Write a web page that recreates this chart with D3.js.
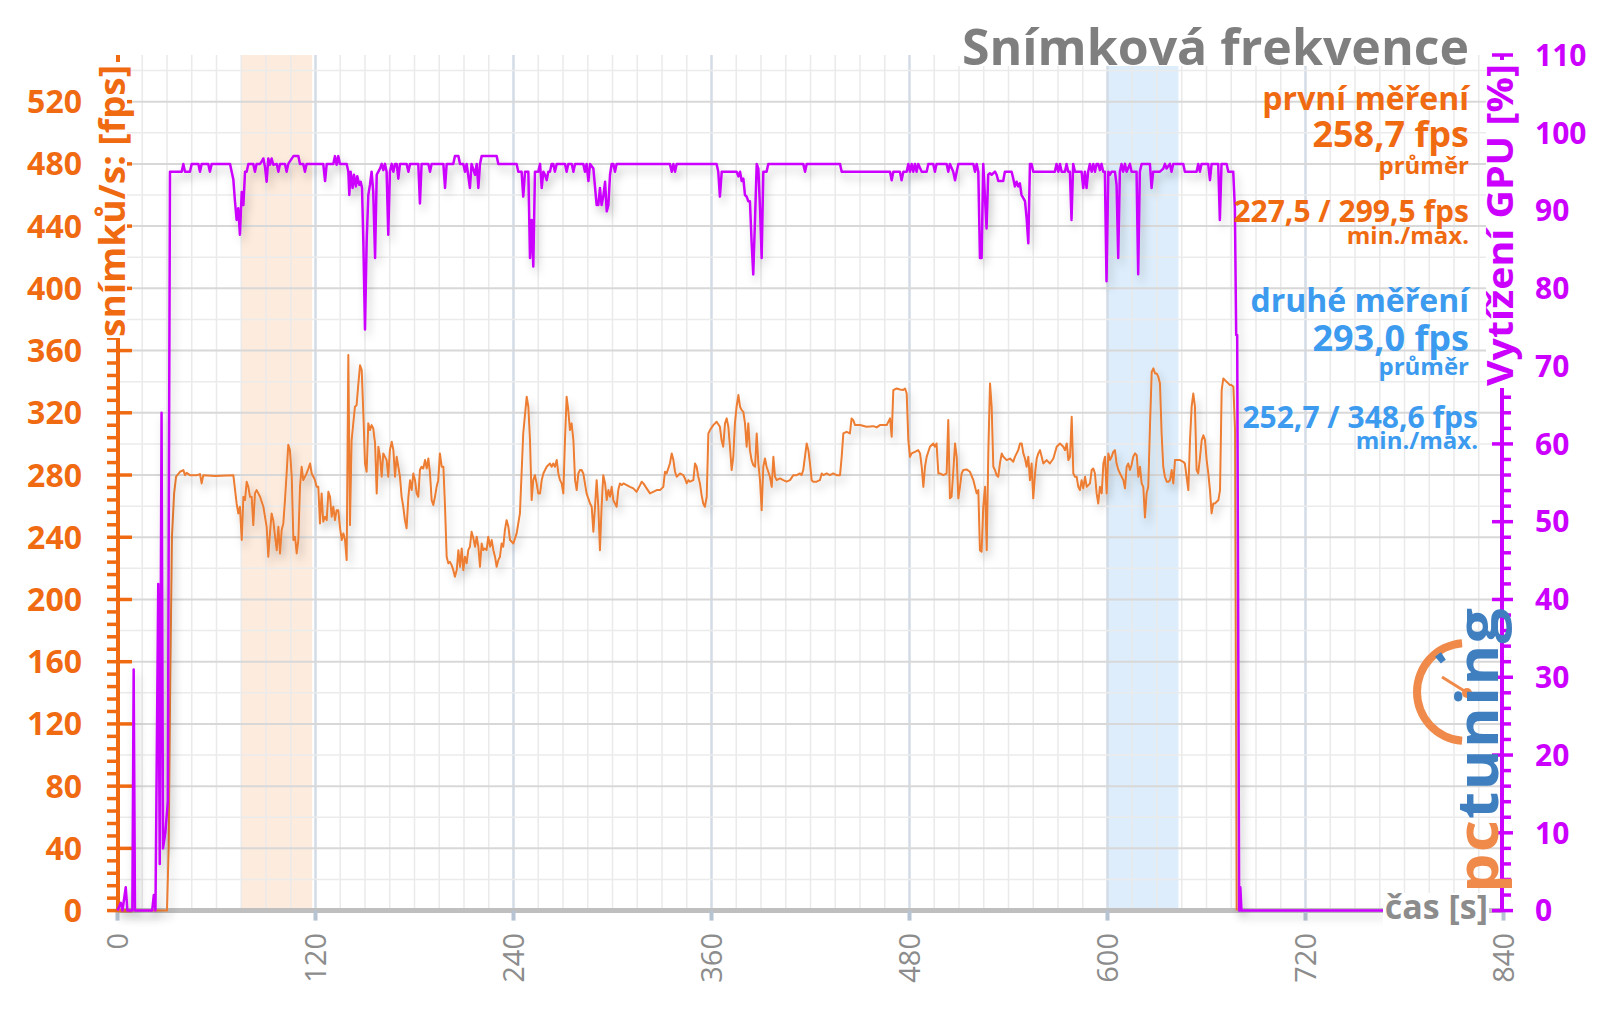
<!DOCTYPE html>
<html><head><meta charset="utf-8">
<script src="https://cdn.jsdelivr.net/npm/d3@7"></script>
<style>
html,body{margin:0;padding:0;background:#fff;}
svg{display:block;font-family:"Open Sans",sans-serif;}
</style></head><body>
<svg id="c" width="1600" height="1009"></svg>
<script>
// ---------- data ----------
const xTicks = [0,120,240,360,480,600,720,840];
const fpsTicks = [0,40,80,120,160,200,240,280,320,360,400,440,480,520];
const gpuTicks = [0,10,20,30,40,50,60,70,80,90,100,110];
const bandFirst = [75,118];
const bandSecond = [600,643];
const titleText = "Snímková frekvence";
const firstLabels = ["první měření","258,7 fps","průměr","227,5 / 299,5 fps","min./max."];
const secondLabels = ["druhé měření","293,0 fps","průměr","252,7 / 348,6 fps","min./max."];
const leftTitle = "snímků/s: [fps]";
const rightTitle = "Vytížení GPU [%]";
const xTitle = "čas [s]";

const fpsPoints = [[0,0],[30,0],[31,40],[32,150],[33,240],[34.3,268],[35.5,278.9],[37.9,282.1],[39.9,283.2],[40.9,279.9],[41.9,281.4],[43.9,279.9],[48,279.9],[50,280.6],[51,274.6],[52,279.9],[59.1,279.3],[70.2,279.9],[72.2,261.7],[73.2,255.3],[74.2,259.6],[75.3,238.2],[76.3,266],[77.3,263.9],[78.3,275.7],[79.3,272.4],[80.3,266],[81.3,266],[82.3,247.8],[83.3,268.2],[84.3,270.3],[86.4,266],[88.4,259.6],[90.4,246.7],[91.4,227.5],[92.4,242.5],[93.4,255.3],[94.4,251],[95.5,240.3],[96.5,231.7],[97.5,246.7],[98.5,229.6],[99.5,244.6],[100.5,248.9],[101.5,263.9],[102.5,281],[103.5,299.5],[104.5,296],[105.6,278.9],[106.6,238.2],[107.6,240.3],[108.6,229.6],[109.6,238.2],[110.6,272.4],[111.6,285.3],[112.6,276.7],[113.6,278.9],[114.6,281],[115.7,284.2],[116.7,287.4],[117.7,281],[118.7,278.9],[119.7,276.7],[120.7,272.4],[121.7,272.4],[122.7,248.9],[123.7,268.2],[124.7,250],[125.8,253.2],[126.8,251],[127.8,269.2],[128.8,266],[129.8,253.2],[130.8,259.6],[131.8,251],[132.8,257.4],[133.8,257.4],[134.8,246.7],[135.9,238.2],[136.9,242.5],[137.9,238.2],[138.9,225.3],[139.9,357.1],[140.9,247.8],[141.9,302.4],[142.9,313.2],[143.9,323.9],[144.9,324.9],[146,338.9],[147,350.6],[148,347.4],[149,319.6],[150,287.4],[151,282.1],[152,313.2],[153,308.9],[154,312.1],[155,309.9],[156.1,300.3],[157.1,268.2],[158.1,298.2],[159.1,291.7],[160.1,278.9],[161.1,293.9],[162.1,291.7],[163.1,289.6],[164.1,278.9],[165.1,296],[166.2,301.4],[167.2,296],[168.2,278.9],[169.2,291.7],[170.2,285.3],[171.2,278.9],[172.2,266],[173.2,259.6],[174.2,251],[175.2,245.7],[176.3,266],[177.3,276.7],[178.3,270.3],[179.3,281],[180.3,276.7],[181.3,268.2],[182.3,266],[183.3,283.2],[184.3,285.3],[185.3,284.2],[186.4,289.6],[187.4,284.2],[188.4,290.6],[189.4,281],[190.4,263.9],[191.4,260.7],[192.4,266],[193.4,272.4],[194.4,276.7],[195.4,293.9],[196.5,285.3],[197.5,285.3],[198.5,259.6],[199.5,227.5],[200.5,223.2],[201.5,224.2],[202.5,222.1],[203.5,218.9],[204.5,214.6],[205.6,218.9],[206.6,231.7],[207.6,221],[208.6,232.8],[209.6,218.9],[210.6,227.5],[211.6,223.2],[212.6,231.7],[213.6,233.9],[214.6,243.5],[215.7,239.2],[216.7,233.9],[217.7,240.3],[218.7,233.9],[219.7,221],[220.7,236],[221.7,231.7],[222.7,232.8],[223.7,231.7],[224.7,240.3],[225.8,233.9],[226.8,238.2],[227.8,231.7],[228.8,227.5],[229.8,221],[230.8,225.3],[231.8,227.5],[232.8,236],[233.8,233.9],[234.8,244.6],[235.8,251],[236.9,246.7],[237.9,238.2],[239.9,236],[241.9,242.5],[243.9,255.3],[244.9,281],[245.9,306.7],[248,330.3],[249,323.9],[250,302.4],[251,263.9],[252,276.7],[253,279.9],[254,274.6],[255,268.2],[256.1,268.2],[257.1,276.7],[258.1,281],[260.1,285.3],[262.1,287.4],[263.1,285.3],[264.1,287.4],[265.1,285.3],[266.2,289.6],[267.2,281],[268.2,276.7],[269.2,274.6],[270.2,268.2],[271.2,302.4],[272.2,330.3],[273.2,321.7],[274.2,308.9],[275.2,313.2],[276.3,302.4],[277.3,276.7],[278.3,270.3],[279.3,281],[280.3,283.2],[281.3,283.2],[282.3,281],[283.3,274.6],[284.3,268.2],[286.4,261.7],[287.4,259.6],[288.4,243.5],[289.4,259.6],[290.4,276.7],[291.4,259.6],[292.4,231.7],[293.4,259.6],[294.4,279.9],[295.5,274.6],[296.5,263.9],[297.5,270.3],[298.5,266],[299.5,272.4],[300.5,263.9],[301.5,261.7],[302.5,259.6],[303.5,270.3],[304.5,274.6],[305.6,273.5],[306.6,274.6],[308.6,273.5],[310.6,272.4],[312.6,271.4],[314.6,269.2],[316.7,273.5],[317.7,275.7],[318.7,274.6],[320.7,271.4],[322.7,268.2],[324.7,269.2],[326.8,270.3],[328.8,270.3],[330.8,272.4],[331.8,282.1],[332.8,281],[334.8,287.4],[335.9,293.9],[336.9,289.6],[337.9,282.1],[338.9,278.9],[340.9,281],[342.9,279.9],[343.9,277.8],[345,274.6],[346,276.7],[347,275.7],[349,276.7],[350,287.4],[351,285.3],[352,278.9],[353,274.6],[354,267.1],[355,261.7],[356,259.6],[357.1,266],[358.1,306.7],[359.1,308.9],[361.1,312.1],[363.1,314.2],[365.1,311],[366.1,302.4],[367.1,298.2],[368.2,313.2],[369.2,316.4],[370.2,311],[371.2,298.2],[372.2,283.2],[373.2,291.7],[374.2,313.2],[375.2,323.9],[376.3,331.4],[377.3,323.9],[378.3,321.7],[379.3,320.6],[380.3,313.2],[381.3,298.2],[382.3,313.2],[383.3,296],[384.3,289.6],[385.3,286.4],[386.4,285.3],[387.4,306.7],[388.4,287.4],[389.4,276.7],[390.4,257.4],[391.4,285.3],[392.4,290.6],[393.4,285.3],[394.4,282.1],[395.4,278.9],[396.5,272.4],[397.5,291.7],[398.5,278.9],[399.5,276.7],[401.5,277.8],[403.5,276.7],[405.5,275.7],[407.6,276.7],[409.6,279.9],[411.6,279.9],[413.6,281],[414.6,279.9],[415.6,283.2],[417.7,300.3],[418.7,296],[419.7,287.4],[420.7,276.7],[421.7,275.7],[423.7,275.7],[425.7,276.7],[426.8,281],[427.8,279.9],[429.8,281],[431.8,279.9],[433.8,281],[435.8,279.9],[437.9,279.9],[438.9,291.7],[439.9,306.7],[441.9,307.8],[443.9,306.7],[444.9,316.4],[445.9,315.3],[447,312.1],[450,312.1],[454,311],[458.1,311.4],[460.1,310.6],[462.1,312.1],[466.2,312.1],[468.2,316.4],[469.2,304.6],[470.2,334.6],[472.2,335.6],[474.2,335],[476.2,334.6],[477.3,335.6],[478.3,332.4],[479.3,302.4],[480.3,291.7],[481.3,293.9],[483.3,294.9],[485.3,296],[486.4,293.9],[487.4,285.3],[488.4,272.4],[489.4,285.3],[490.4,291.7],[492.4,298.2],[494.4,300.3],[495.4,298.2],[496.4,300.3],[497.5,281],[498.5,281],[500.5,279.9],[502.5,281],[503.5,315.3],[504.5,265],[505.5,266],[506.6,283.2],[507.6,300.3],[508.6,291.7],[509.6,265],[510.6,272.4],[511.6,281],[512.6,283.2],[514.6,283.6],[516.6,282.1],[518.7,276.7],[520.7,268.2],[521.7,270.3],[522.7,231.7],[523.7,230.7],[524.7,259.6],[525.8,272.4],[526.8,231.7],[527.8,296],[528.8,338.9],[529.8,323.9],[530.8,285.3],[531.8,283.2],[532.8,279.9],[533.8,278.9],[534.8,287.4],[535.9,293.9],[536.9,291.7],[538.9,289.6],[540.9,290.6],[542.9,288.5],[543.9,291.7],[545.9,296],[547,300.3],[548,300.3],[549,293.9],[550,290.6],[551,285.3],[552,291.7],[553,276.7],[554,287.4],[555,265],[556.1,281],[557.1,290.6],[558.1,293.9],[559.1,296],[560.1,291.7],[561.1,287.4],[563.1,289.6],[565.1,287.4],[567.2,290.6],[569.2,298.2],[571.2,300.3],[573.2,298.2],[574.2,296],[575.3,300.3],[576.3,289.6],[577.3,291.7],[578.3,317.4],[579.3,281],[580.3,278.9],[581.3,278.9],[582.3,272.4],[583.3,270.3],[584.3,276.7],[585.3,271.4],[586.4,278.9],[587.4,272.4],[589.4,274.6],[590.4,283.2],[591.4,284.2],[592.4,281],[593.4,268.2],[594.4,261.7],[595.4,272.4],[596.5,268.2],[597.5,287.4],[598.5,291.7],[599.5,268.2],[600.5,293.9],[601.5,289.6],[602.5,291.7],[603.5,294.9],[604.5,296],[605.5,287.4],[606.6,283.2],[607.6,281],[608.6,278.9],[609.6,276.7],[610.6,271.4],[611.6,285.3],[612.6,287.4],[613.6,283.2],[614.6,286.4],[615.6,291.7],[616.7,293.9],[617.7,292.8],[618.7,278.9],[619.7,285.3],[620.7,274.6],[621.7,272.4],[622.7,252.7],[623.7,268.2],[624.7,272.4],[625.8,313.2],[626.8,346.3],[627.8,348.6],[628.8,345.3],[629.8,345.3],[630.8,343.1],[631.8,338.9],[632.8,306.7],[633.8,285.3],[634.8,278.9],[635.9,275.7],[636.9,275.7],[637.9,276.7],[638.9,283.2],[639.9,274.6],[640.9,289.6],[641.9,289.6],[643.9,289.6],[645.9,288.5],[646.9,287.4],[649,270.3],[650,302.4],[651,323.9],[652,332.4],[653,323.9],[654,283.2],[655,281],[656.1,291.7],[657.1,302.4],[658.1,305.6],[659.1,302.4],[660.1,289.6],[661.1,281],[662.1,270.3],[663.1,255.3],[664.1,261.7],[665.1,261.7],[666.2,262.8],[667.2,263.9],[668.2,270.3],[669.2,334.6],[670.2,342.1],[671.2,341],[672.2,339.9],[673.2,338.9],[674.2,337.8],[675.2,337.8],[676.3,336.7],[677.3,308.9],[678.3,0]];

const gpuPoints = [[0,0],[2,1],[3,0],[5,3],[6,0],[9,0],[9.8,31],[10.6,0],[21,0],[22,2],[23,0],[24.7,42],[25.6,6],[26.7,64],[27.6,8],[29,10],[30.5,14],[31.8,95],[38.9,95],[39.9,96],[40.9,95],[43.9,95],[45,96],[49,96],[50,95],[51,96],[55,96],[56,95],[57.1,96],[68.2,96],[69.2,95],[70.2,94],[71.2,91.2],[72.2,88.8],[73.2,90.3],[74.2,86.9],[75.3,92.4],[76.3,90.7],[77.3,95],[78.3,95],[79.3,96],[82.3,96],[83.3,95],[84.3,96],[86.4,96],[87.4,96.3],[88.4,96.7],[89.4,95.6],[90.4,93.7],[91.4,96.7],[92.4,95.9],[93.4,96.7],[94.4,95.9],[96.5,96],[97.5,95],[98.5,96],[101.5,96],[102.5,95],[103.5,96],[106.6,97],[109.6,97],[110.6,96],[112.6,96],[113.6,95],[114.6,96],[124.7,96],[125.8,93.8],[126.8,96],[130.8,96],[131.8,97],[132.8,95.9],[133.8,97],[134.8,96],[138.9,96],[139.9,95],[140.5,92],[141.3,95],[142.5,92.9],[143.3,94.6],[144.5,93.1],[145.3,94.4],[146.6,93.3],[147.4,93.7],[148.2,92.9],[149,86],[150,74.7],[151,86],[152,92],[153,93.3],[154,95],[155,92.4],[156.1,83.9],[157.1,94.6],[158.1,95],[159.1,95.4],[160.1,96],[161.1,95.2],[162.1,96],[163.1,95],[164.1,86.9],[165.1,95],[166.2,96],[167.2,95],[168.2,96],[169.2,96],[170.2,94.1],[171.2,96],[175.2,96],[176.3,95],[177.3,96],[182.3,96],[183.3,90.9],[184.3,96],[188.4,96],[189.4,95],[190.4,96],[197.5,96],[198.5,92.9],[199.5,96],[203.5,96],[204.5,97],[206.6,97],[207.6,96],[209.6,96],[210.6,95],[211.6,96],[213.6,92.9],[214.6,96],[216.7,94.6],[217.7,96],[218.7,92.9],[219.7,96],[220.7,97],[229.8,97],[230.8,96],[241.9,96],[242.9,95],[244.9,95],[245.9,91.8],[247,95],[249,95],[250,83.9],[251,88.8],[252,82.8],[253,95],[255,95],[256.1,96],[257.1,92.9],[258.1,95],[259.1,94.6],[260.1,93.9],[261.1,95],[262.1,95],[263.1,96],[264.1,96],[265.1,95],[266.2,96],[271.2,96],[272.2,95],[273.2,96],[275.3,96],[276.3,95],[277.3,96],[282.3,96],[283.3,95],[284.3,96],[285.4,93.8],[286.4,96],[288.4,95.4],[290.4,90.7],[291.4,90.7],[292.4,92.9],[293.4,90.7],[294.4,91.8],[295.5,93.7],[296.5,89.9],[297.5,90.7],[298.5,94.6],[299.5,96],[300.5,96],[301.5,95],[302.5,96],[334.8,96],[335.9,95],[336.9,96],[337.9,95],[338.9,96],[363.1,96],[364.1,95],[365.1,91.8],[366.2,95],[375.2,95],[376.3,94.4],[377.3,95],[378.3,93.8],[379.3,94.1],[380.3,92],[381.3,91.8],[382.3,91.2],[383.3,91.2],[384.3,86],[385.3,81.8],[386.4,89],[387.4,96],[388.4,95.4],[389.4,90.3],[390.4,83.9],[391.4,95],[393.4,95],[394.4,96],[415.6,96],[416.7,95],[417.7,96],[437.9,96],[438.9,95],[468.2,95],[469.2,93.9],[470.2,95],[474.2,95],[475.2,93.9],[476.3,95],[478.3,95],[479.3,96],[480.3,95],[481.3,96],[482.3,95],[483.3,96],[484.3,95],[485.3,96],[487.4,95],[490.4,95],[491.4,96],[494.4,96],[495.4,95],[496.4,96],[502.5,96],[503.5,95],[504.5,96],[506.5,95],[507.6,93.9],[508.6,95],[509.6,96],[518.7,96],[519.7,95],[520.7,96],[521.7,95],[522.7,83.9],[523.7,83.9],[524.7,96],[526.7,87.7],[527.7,94.6],[528.7,94.8],[529.8,94.6],[531.8,95],[532.8,94.6],[533.8,93.8],[536.8,93.8],[537.8,95],[541.9,95],[542.9,94.1],[543.9,93.1],[544.9,93.7],[545.9,93.1],[546.9,93.5],[547.9,92],[550,91.2],[551,89],[552,85.8],[553,96],[554,96],[555,95],[568.1,95],[569.1,96],[570.2,95],[571.2,96],[572.2,95],[574.2,95],[575.2,96],[576.2,95],[577.2,95],[578.2,88.8],[579.2,96],[580.3,95],[584.3,95],[585.3,92.9],[586.3,95],[587.3,92.9],[588.3,95],[589.3,96],[590.4,95],[591.4,96],[592.4,95],[593.4,96],[594.4,96],[595.4,95.2],[596.4,96],[597.4,95],[598.4,95],[599.4,80.9],[600.5,95],[601.5,94.6],[602.5,95],[604.5,95],[605.5,93.3],[606.5,83.9],[607.5,95],[608.5,96],[609.5,95],[610.6,96],[611.6,95],[613.6,96],[614.6,95],[617.6,95],[618.6,81.8],[619.6,95],[620.7,96],[625.7,96],[626.7,92.9],[627.7,95],[631.8,95],[632.8,95.2],[633.8,95.4],[634.8,96],[635.8,95.4],[637.8,96],[638.8,95],[639.8,96],[645.9,96],[646.9,95],[654,95],[655,96],[656,95],[657,96],[661,96],[662.1,93.9],[663.1,96],[667.1,96],[668.1,88.8],[669.1,96],[672.2,96],[673.2,95],[676.2,95],[677.2,90.3],[678,74],[678.6,74],[679.8,0],[680.5,3],[681.2,0],[767,0]];

// ---------- layout ----------
const C = {
  orange:"#F06A12", orangeLine:"#ED7D31", magenta:"#CC00FF", blue:"#3C9BEF",
  gray:"#8C8C8C", title:"#7F7F7F", logoO:"#F08A4B", logoB:"#3F7FC0"
};
const svg = d3.select("#c");
const x = d3.scaleLinear().domain([0,840]).range([117.5,1503.5]);
const yL = d3.scaleLinear().domain([0,550]).range([910.6,55]);
const yR = d3.scaleLinear().domain([0,110]).range([910.6,55]);

const defs = svg.append("defs");
const f = defs.append("filter").attr("id","sh").attr("x","-2%").attr("y","-10%").attr("width","104%").attr("height","130%");
f.append("feDropShadow").attr("dx",3).attr("dy",6).attr("stdDeviation",4).attr("flood-color","#000").attr("flood-opacity",0.22);

// bands
svg.append("rect").attr("x",x(bandFirst[0])).attr("width",x(bandFirst[1])-x(bandFirst[0]))
  .attr("y",yL(550)).attr("height",yL(0)-yL(550)).attr("fill","#FDEBDD");
svg.append("rect").attr("x",x(bandSecond[0])).attr("width",x(bandSecond[1])-x(bandSecond[0]))
  .attr("y",yL(550)).attr("height",yL(0)-yL(550)).attr("fill","#DDEDFB");

// grid
const g = svg.append("g");
d3.range(15,840,15).forEach(t=>{
  const maj = t%120===0;
  g.append("line").attr("x1",x(t)).attr("x2",x(t)).attr("y1",yL(550)).attr("y2",yL(0))
   .attr("stroke",maj?"#D3DBE6":"#EAEAEA").attr("stroke-width",maj?2.5:1.5);
});
d3.range(20,550,20).forEach(v=>{
  const maj = v%40===0;
  g.append("line").attr("x1",x(0)).attr("x2",x(840)).attr("y1",yL(v)).attr("y2",yL(v))
   .attr("stroke",maj?"#D8D8D8":"#EBEBEB").attr("stroke-width",maj?2:1.5);
});

// title (white box behind)
svg.append("rect").attr("x",950).attr("y",16).attr("width",525).attr("height",50).attr("fill","#fff");
svg.append("text").attr("x",1469).attr("y",65).attr("text-anchor","end")
  .attr("font-size",50).attr("font-weight",700).attr("fill",C.title).text(titleText);

// x axis
svg.append("line").attr("x1",x(0)).attr("x2",x(840)).attr("y1",yL(0)).attr("y2",yL(0))
  .attr("stroke","#BFBFBF").attr("stroke-width",5);
xTicks.forEach(t=>{
  svg.append("line").attr("x1",x(t)).attr("x2",x(t)).attr("y1",yL(0)).attr("y2",yL(0)+10)
    .attr("stroke","#B6C3D2").attr("stroke-width",4);
  svg.append("text").attr("transform",`translate(${x(t)},933) rotate(-90)`)
    .attr("text-anchor","end").attr("dy","0.35em").attr("font-size",29)
    .attr("fill",C.gray).text(t);
});

// left axis
svg.append("line").attr("x1",118).attr("x2",118).attr("y1",yL(0)).attr("y2",yL(550))
  .attr("stroke",C.orange).attr("stroke-width",4);
d3.range(0,551,8).forEach(v=>{
  const maj = v%40===0;
  svg.append("line").attr("x1",107).attr("x2",maj?132:118).attr("y1",yL(v)).attr("y2",yL(v))
    .attr("stroke",C.orange).attr("stroke-width",3.5);
});
fpsTicks.forEach(v=>{
  svg.append("text").attr("x",82).attr("y",yL(v)).attr("dy","0.36em").attr("text-anchor","end")
    .attr("font-size",32).attr("font-weight",700).attr("fill",C.orange).text(v);
});
svg.append("rect").attr("x",95).attr("y",62).attr("width",32).attr("height",276).attr("fill","#fff");
svg.append("text").attr("transform","translate(125,337) rotate(-90)")
  .attr("font-size",36).attr("font-weight",700).attr("fill",C.orange)
  .attr("textLength",272).attr("lengthAdjust","spacingAndGlyphs").text(leftTitle);

// right axis
svg.append("line").attr("x1",1502).attr("x2",1502).attr("y1",yR(0)).attr("y2",yR(110))
  .attr("stroke",C.magenta).attr("stroke-width",4);
d3.range(0,111,2).forEach(v=>{
  const maj = v%10===0;
  svg.append("line").attr("x1",maj?1492:1502).attr("x2",maj?1513:1511).attr("y1",yR(v)).attr("y2",yR(v))
    .attr("stroke",C.magenta).attr("stroke-width",3.5);
});
gpuTicks.forEach(v=>{
  svg.append("text").attr("x",1535).attr("y",yR(v)).attr("dy","0.36em")
    .attr("font-size",30).attr("font-weight",700).attr("fill",C.magenta).text(v);
});
svg.append("rect").attr("x",1486).attr("y",60).attr("width",28).attr("height",328).attr("fill","#fff");
svg.append("text").attr("transform","translate(1513,386) rotate(-90)")
  .attr("font-size",36).attr("font-weight",700).attr("fill",C.magenta)
  .attr("textLength",322).attr("lengthAdjust","spacingAndGlyphs").text(rightTitle);

// logo
const logo = svg.append("g");
const arc = d3.arc();
logo.append("path").attr("transform","translate(1466,692)")
  .attr("d",arc({innerRadius:45,outerRadius:53,startAngle:Math.PI+0.08,endAngle:2*Math.PI-0.08}))
  .attr("fill",C.logoO);
logo.append("path").attr("transform","translate(1466,692)")
  .attr("d",arc({innerRadius:38,outerRadius:47,startAngle:2*Math.PI-0.72,endAngle:2*Math.PI-0.56}))
  .attr("fill",C.logoB);
logo.append("line").attr("x1",1466).attr("y1",692).attr("x2",1442).attr("y2",677)
  .attr("stroke",C.logoO).attr("stroke-width",3);
logo.append("circle").attr("cx",1467).attr("cy",693).attr("r",5).attr("fill",C.logoO);
const lt = logo.append("text").attr("transform","translate(1498,893) rotate(-90)")
  .attr("font-size",58).attr("font-weight",700).attr("letter-spacing",1)
  .attr("textLength",286).attr("lengthAdjust","spacingAndGlyphs");
lt.append("tspan").attr("fill",C.logoO).text("pc");
lt.append("tspan").attr("fill",C.logoB).text("tuning");

// series
const lineL = d3.line().x(d=>x(d[0])).y(d=>yL(d[1]));
const lineR = d3.line().x(d=>x(d[0])).y(d=>yR(d[1]));
svg.append("path").attr("d",lineL(fpsPoints)).attr("fill","none")
  .attr("stroke",C.orangeLine).attr("stroke-width",2).attr("stroke-linejoin","round").attr("filter","url(#sh)");
svg.append("path").attr("d",lineR(gpuPoints)).attr("fill","none")
  .attr("stroke",C.magenta).attr("stroke-width",2.5).attr("stroke-linejoin","round").attr("filter","url(#sh)");

// x title
svg.append("rect").attr("x",1383).attr("y",893).attr("width",106).attr("height",40).attr("fill","#fff");
svg.append("text").attr("x",1488).attr("y",919).attr("text-anchor","end")
  .attr("font-size",34).attr("font-weight",700).attr("fill",C.gray).text(xTitle);

// stats
const stat = (txt,xx,yy,size,col)=>svg.append("text").attr("x",xx).attr("y",yy).attr("text-anchor","end")
  .attr("font-size",size).attr("font-weight",700).attr("fill",col).text(txt);
stat(firstLabels[0],1469,110,32,C.orange);
stat(firstLabels[1],1469,147,36,C.orange);
stat(firstLabels[2],1469,174,24,C.orange);
stat(firstLabels[3],1469,222,30,C.orange);
stat(firstLabels[4],1469,244,24,C.orange);
stat(secondLabels[0],1469,312,32,C.blue);
stat(secondLabels[1],1469,351,36,C.blue);
stat(secondLabels[2],1469,375,24,C.blue);
stat(secondLabels[3],1478,428,30,C.blue);
stat(secondLabels[4],1478,449,24,C.blue);
</script>
</body></html>
